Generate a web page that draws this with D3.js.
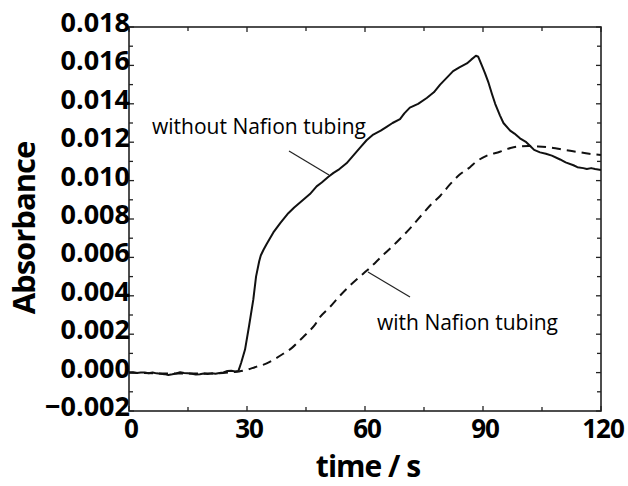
<!DOCTYPE html>
<html><head><meta charset="utf-8">
<script src="https://cdn.jsdelivr.net/npm/d3@7"></script>
<style>html,body{margin:0;padding:0;background:#fff}</style>
</head><body><svg id="c" width="628" height="486"></svg>
<script>
// ---- data ----
const solidT = [0,1,2,3,4,5,6,7,8,9,10,11,12,13,14,15,16,17,18,19,20,21,22,23,24,25,26,27,27.8,28.5,29.5,30.5,31.6,32.3,33.1,33.5,34.2,35,36.7,38.5,40.5,42,44.3,46,47.7,49,50.7,52,53.5,55.3,57,58.7,60.4,62.1,64,65.5,67,68.9,70,71.4,73.5,75.7,77.5,79.1,81,82.4,84,85.9,87,88.2,88.8,89.7,90.5,91.4,92.3,93.1,94.3,95.2,96.9,98,99.4,101,102,103,104.5,106,107.5,109.6,111,113,114,115.5,116.4,117.5,118.5,120];
const solidV = [0.00000,0.00002,-0.00002,0.00001,0.00000,-0.00003,0.00001,-0.00004,-0.00006,-0.00008,-0.00012,-0.00009,-0.00005,0.00002,-0.00002,-0.00004,-0.00006,-0.00010,-0.00008,-0.00005,-0.00007,-0.00004,-0.00006,-0.00002,0.00001,0.00008,0.00010,0.00006,0.00008,0.0005,0.0012,0.0024,0.0038,0.0050,0.0058,0.0061,0.0064,0.0067,0.0073,0.0078,0.0083,0.0086,0.0090,0.0093,0.0097,0.0099,0.0102,0.0104,0.0106,0.0109,0.0113,0.0117,0.0121,0.0124,0.0126,0.0128,0.0130,0.0132,0.0135,0.0138,0.0140,0.0143,0.0146,0.0150,0.0154,0.0157,0.0159,0.0161,0.0163,0.0165,0.01645,0.0160,0.0156,0.0151,0.0145,0.0140,0.0134,0.0130,0.0126,0.01245,0.0122,0.0120,0.0118,0.0116,0.01147,0.0114,0.0113,0.0111,0.01095,0.0108,0.0107,0.01065,0.0106,0.01065,0.0106,0.01055];
const dashT = [0,10,20,26,28,29.9,32,35,37,39.2,41.5,43.5,45.5,47.3,48.6,51,53.6,56,58.7,60.4,62.5,65,68.1,71.4,74.8,77,79.1,81.6,84,86.7,88.4,91,94.3,97,99,101.5,104,107.9,110,113.8,117,120];
const dashV = [0,-0.00005,-0.00005,0.00002,0.00006,0.00014,0.00028,0.00048,0.0007,0.00098,0.0013,0.0017,0.0021,0.0025,0.0029,0.0034,0.0040,0.0045,0.0050,0.0053,0.0057,0.0062,0.0068,0.0075,0.0083,0.0088,0.0092,0.0098,0.0103,0.0107,0.0110,0.0113,0.0115,0.0117,0.01178,0.0118,0.01178,0.0117,0.01162,0.0115,0.0114,0.01133];
const xTickLabels = ["0","30","60","90","120"];
const yTickLabels = ["\u22120.002","0.000","0.002","0.004","0.006","0.008","0.010","0.012","0.014","0.016","0.018"];
const labelWithout = "without Nafion tubing";
const labelWith = "with Nafion tubing";
const xTitle = "time / s";
const yTitle = "Absorbance";

// ---- layout ----
const svg = d3.select("#c");
const L=129, R=601, T=27, B=411;
const x = d3.scaleLinear().domain([0,120]).range([L,R]);
const y = d3.scaleLinear().domain([-0.002,0.018]).range([B,T]);
const fontB = "'Open Sans', sans-serif";

// minor/major ticks on all sides
const xMajor = d3.range(0,121,30), xMinor = d3.range(15,120,30);
const yMajor = d3.range(0,11).map(i=>-0.002+i*0.002), yMinor = d3.range(0,10).map(i=>-0.001+i*0.002);
const tk = svg.append("g").attr("stroke","#222").attr("stroke-width",1.3);
function xt(v,len){ tk.append("line").attr("x1",x(v)).attr("x2",x(v)).attr("y1",B).attr("y2",B-len);
  tk.append("line").attr("x1",x(v)).attr("x2",x(v)).attr("y1",T).attr("y2",T+len); }
function yt(v,len){ tk.append("line").attr("y1",y(v)).attr("y2",y(v)).attr("x1",L).attr("x2",L+len);
  tk.append("line").attr("y1",y(v)).attr("y2",y(v)).attr("x1",R).attr("x2",R-len); }
xMajor.forEach(v=>xt(v,5)); xMinor.forEach(v=>xt(v,4));
yMajor.forEach(v=>yt(v,5)); yMinor.forEach(v=>yt(v,4));

svg.append("rect").attr("x",L).attr("y",T).attr("width",R-L).attr("height",B-T)
  .attr("fill","none").attr("stroke","#222").attr("stroke-width",1.6);

// tick labels
svg.append("g").selectAll("text").data(xMajor).join("text")
  .attr("x",d=>x(d)+2).attr("y",438).attr("text-anchor","middle")
  .attr("font-family",fontB).attr("font-weight","bold").attr("font-size",26).attr("letter-spacing",-1)
  .text((d,i)=>xTickLabels[i]);
svg.append("g").selectAll("text").data(yMajor).join("text")
  .attr("x",130).attr("y",d=>y(d)+5).attr("text-anchor","end")
  .attr("font-family",fontB).attr("font-weight","bold").attr("font-size",27)
  .text((d,i)=>yTickLabels[i]);

// axis titles
svg.append("text").attr("x",368).attr("y",477).attr("text-anchor","middle")
  .attr("font-family",fontB).attr("font-weight","bold").attr("font-size",30).attr("letter-spacing",-1).text(xTitle);
svg.append("text").attr("transform","translate(35,228) rotate(-90)").attr("text-anchor","middle")
  .attr("font-family",fontB).attr("font-weight","bold").attr("font-size",31).attr("letter-spacing",-1).text(yTitle);

// curves
const line = d3.line().x(d=>x(d[0])).y(d=>y(d[1])).curve(d3.curveLinear);
const dline = d3.line().x(d=>x(d[0])).y(d=>y(d[1])).curve(d3.curveMonotoneX);
svg.append("path").datum(dashT.map((t,i)=>[t,dashV[i]])).attr("d",dline)
  .attr("fill","none").attr("stroke","#111").attr("stroke-width",2).attr("stroke-dasharray","9,6");
svg.append("path").datum(solidT.map((t,i)=>[t,solidV[i]])).attr("d",line)
  .attr("fill","none").attr("stroke","#111").attr("stroke-width",2).attr("stroke-linejoin","round");

// annotations
svg.append("text").attr("x",152).attr("y",134).attr("font-family",fontB).attr("font-size",21).text(labelWithout);
svg.append("line").attr("x1",289).attr("y1",151).attr("x2",329).attr("y2",175).attr("stroke","#222").attr("stroke-width",1.2);
svg.append("text").attr("x",377).attr("y",330).attr("font-family",fontB).attr("font-size",21).text(labelWith);
svg.append("line").attr("x1",368).attr("y1",272).attr("x2",410).attr("y2",297).attr("stroke","#222").attr("stroke-width",1.2);
</script></body></html>
